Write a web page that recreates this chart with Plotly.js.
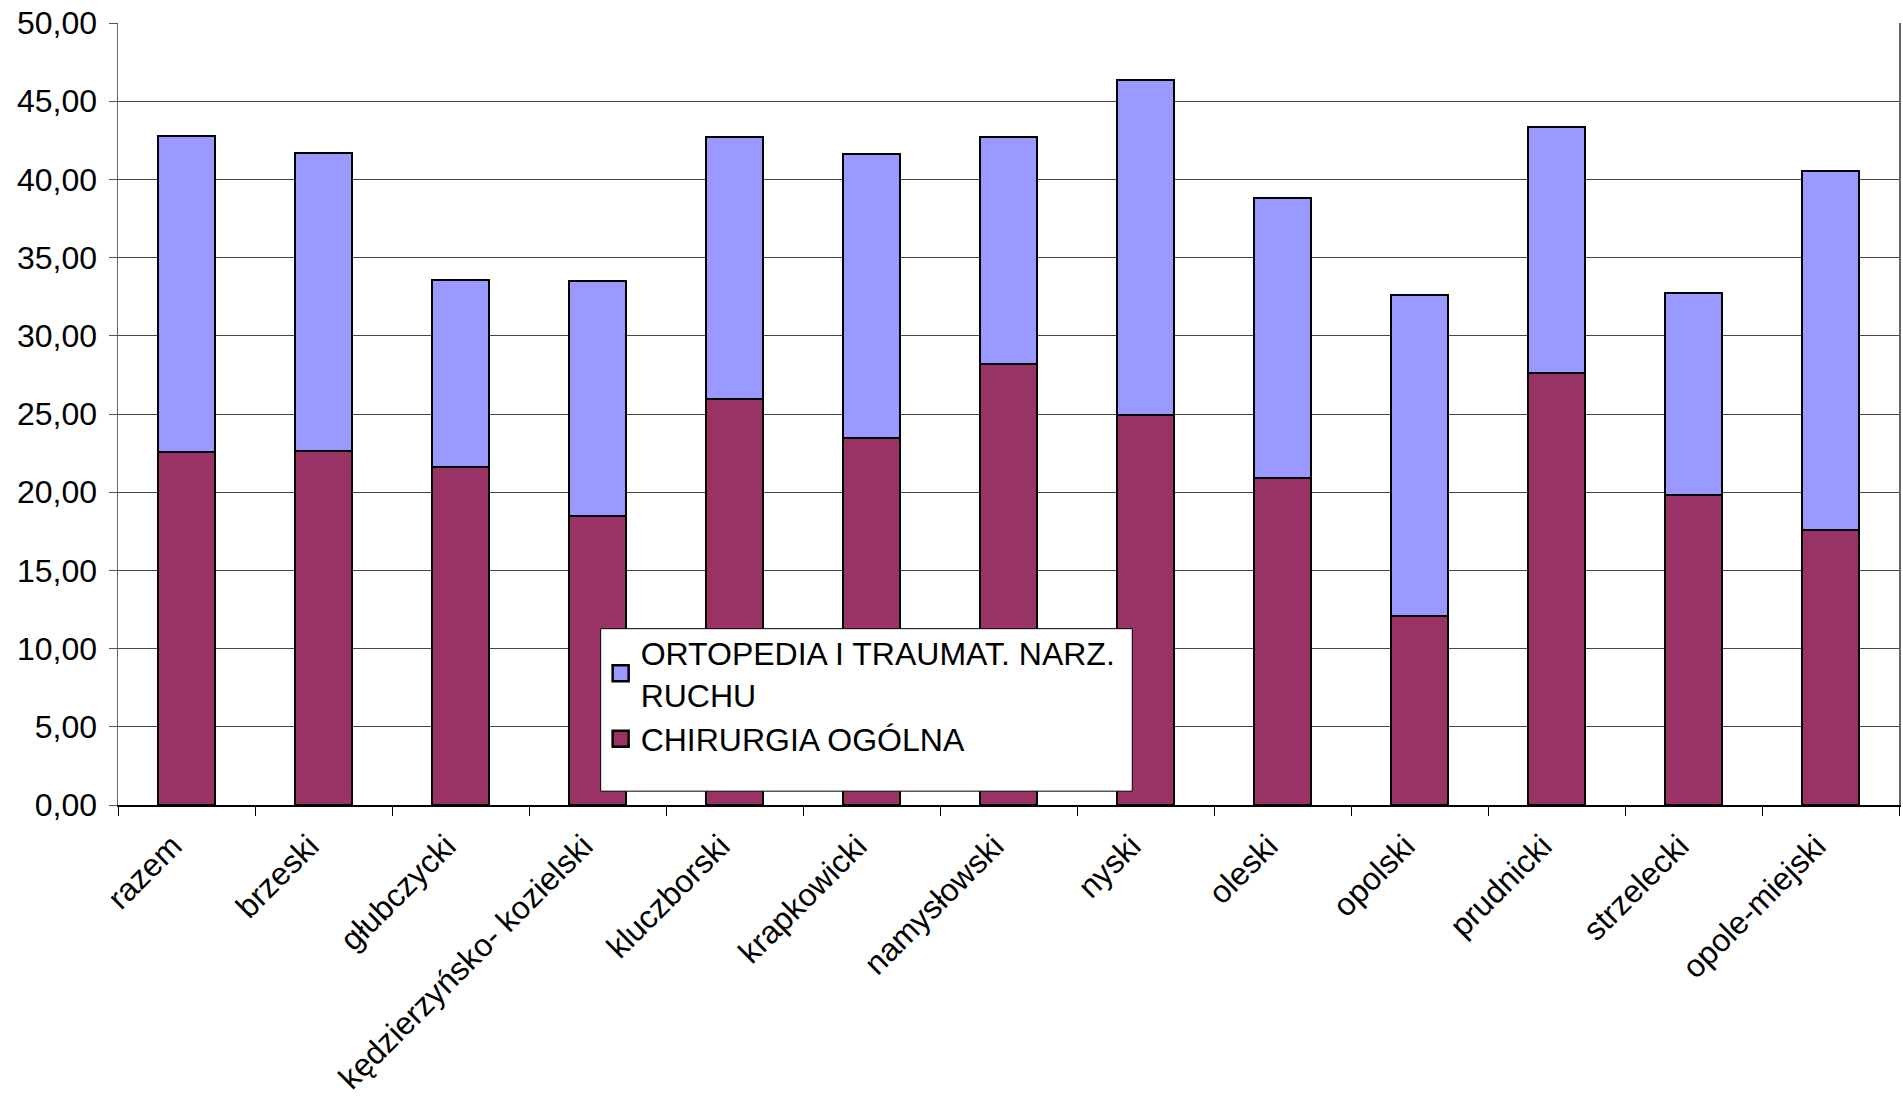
<!DOCTYPE html>
<html>
<head>
<meta charset="utf-8">
<script src="https://cdn.plot.ly/plotly-3.0.1.min.js"></script>
<style>
  html, body { margin: 0; padding: 0; background: #fff; }
  #wykres { width: 1903px; height: 1099px; }
</style>
</head>
<body>
<div id="wykres"></div>
<script>
// powiaty
const powiaty = ['razem', 'brzeski', 'głubczycki', 'kędzierzyńsko- kozielski', 'kluczborski',
  'krapkowicki', 'namysłowski', 'nyski', 'oleski', 'opolski', 'prudnicki', 'strzelecki', 'opole-miejski'];

// wartosci
const chirurgia = [22.56, 22.65, 21.58, 18.46, 25.96, 23.44, 28.18, 24.93, 20.90, 12.08, 27.60, 19.79, 17.57];
const ortopedia = [20.24, 19.04, 12.01, 15.06, 16.72, 18.17, 14.55, 21.40, 17.92, 20.55, 15.74, 12.92, 22.97];

const nazwaChir = 'CHIRURGIA OGÓLNA';
const nazwaOrt = 'ORTOPEDIA I TRAUMAT. NARZ.<br>RUCHU';

const kolorChir = '#993366';
const kolorOrt = '#9999FF';

const czcionka = 'Arial, "Liberation Sans", sans-serif';

const traces = [
  {
    type: 'bar',
    name: nazwaChir,
    x: powiaty,
    y: chirurgia,
    showlegend: false,
    marker: { color: kolorChir, line: { color: '#000', width: 2 } }
  },
  {
    type: 'bar',
    name: nazwaOrt,
    x: powiaty,
    y: ortopedia,
    showlegend: false,
    marker: { color: kolorOrt, line: { color: '#000', width: 2 } }
  },
  // tylko do legendy (wieksze kwadraty)
  {
    type: 'scatter',
    mode: 'markers',
    name: nazwaChir,
    x: [null],
    y: [null],
    marker: { symbol: 'square', size: 16, color: kolorChir, line: { color: '#000', width: 2.5 } }
  },
  {
    type: 'scatter',
    mode: 'markers',
    name: nazwaOrt,
    x: [null],
    y: [null],
    marker: { symbol: 'square', size: 16, color: kolorOrt, line: { color: '#000', width: 2.5 } }
  }
];

const layout = {
  barmode: 'stack',
  bargap: 0.59,
  separators: ', ',
  paper_bgcolor: '#fff',
  plot_bgcolor: '#fff',
  font: { family: czcionka, color: '#000', size: 30 },
  margin: { l: 118, r: 4, t: 23, b: 294 },
  xaxis: {
    type: 'category',
    tickangle: -45,
    tickfont: { size: 32 },
    ticks: 'outside',
    tickson: 'boundaries',
    ticklen: 9,
    tickcolor: '#000',
    ticklabelstandoff: 8,
    ticklabelshift: -14,
    showline: true,
    linecolor: '#000',
    linewidth: 1.5,
    showgrid: false
  },
  yaxis: {
    range: [0, 50],
    dtick: 5,
    tickformat: '.2f',
    tickfont: { size: 32 },
    ticks: 'outside',
    ticklen: 8,
    tickcolor: '#555',
    ticklabelstandoff: 5,
    showline: true,
    mirror: true,
    linecolor: '#666',
    linewidth: 1.5,
    gridcolor: '#444',
    gridwidth: 1,
    zeroline: false
  },
  showlegend: true,
  legend: {
    traceorder: 'reversed',
    x: 0.271,
    y: 0.23,
    xanchor: 'left',
    yanchor: 'top',
    bgcolor: 'rgba(0,0,0,0)',
    borderwidth: 0,
    font: { size: 32 },
    itemwidth: 30,
    tracegroupgap: 6
  },
  shapes: [
    {
      type: 'rect',
      xref: 'paper', yref: 'paper',
      x0: 0.271, x1: 0.5695, y0: 0.0177, y1: 0.2255,
      fillcolor: '#fff',
      line: { color: '#000', width: 1 },
      layer: 'above'
    }
  ]
};

Plotly.newPlot('wykres', traces, layout, { displayModeBar: false, staticPlot: true });
</script>
</body>
</html>
